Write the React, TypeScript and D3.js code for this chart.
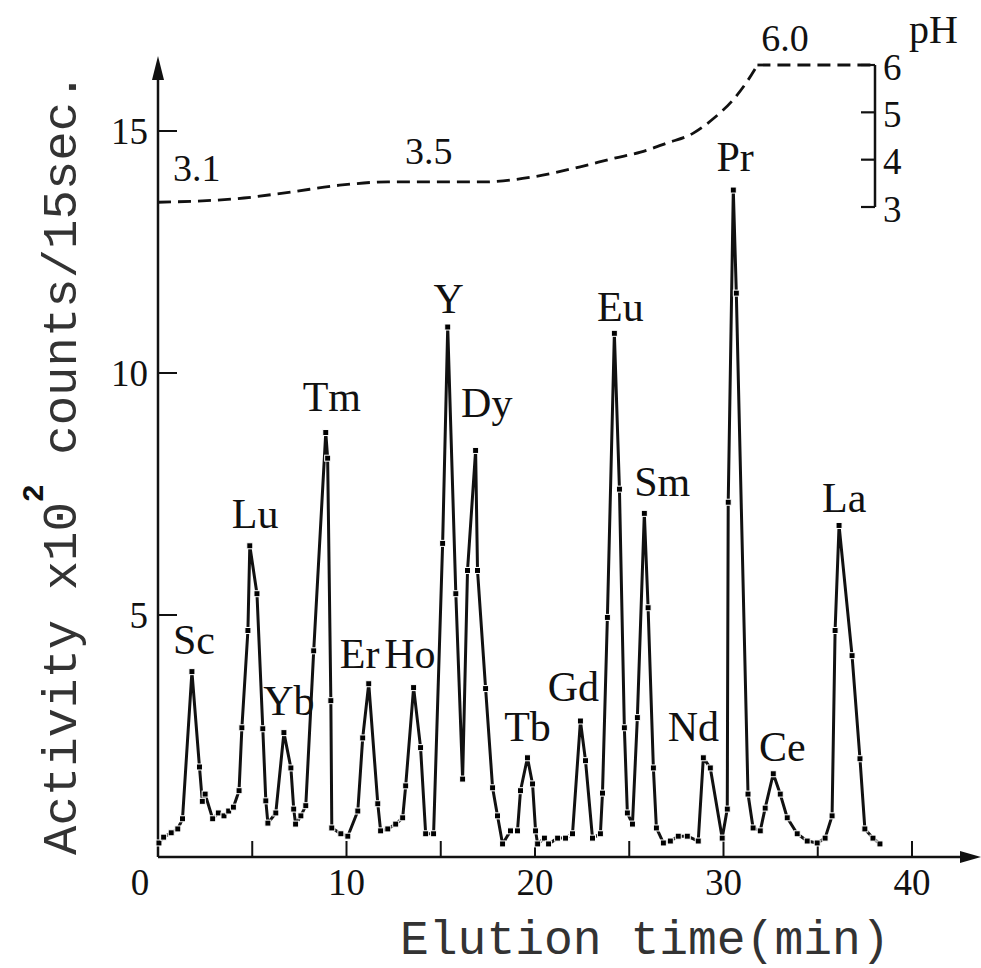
import React from "react";
import * as d3 from "d3";

// Elution curve (time in min, activity x10^2 counts/15 sec)
const elutionTime = [
  0.05, 0.3, 0.7, 1.05, 1.3, 1.8, 2.2, 2.35, 2.5, 2.9, 3.2, 3.5, 3.75, 4.0, 4.3, 4.45, 4.77, 4.87,
  5.25, 5.56, 5.72, 5.83, 6.25, 6.68, 7.05, 7.2, 7.3, 7.58, 7.84, 8.26, 8.9, 9.0, 9.17, 9.22,
  9.7, 10.07, 10.6, 10.86, 11.18, 11.66, 11.81, 12.19, 12.61, 12.98, 13.14, 13.56, 13.93, 14.2,
  14.62, 15.1, 15.37, 15.8, 16.16, 16.42, 16.85, 16.95, 17.38, 17.75, 18.01, 18.28, 18.7, 19.07,
  19.23, 19.6, 19.87, 20.03, 20.14, 20.5, 20.72, 21.2, 21.62, 21.99, 22.41, 22.68, 23.05, 23.47,
  23.58, 23.84, 24.21, 24.48, 24.74, 24.9, 25.17, 25.43, 25.8, 26.0, 26.28, 26.44, 26.81, 27.18,
  27.6, 28.08, 28.66, 28.93, 29.3, 29.93, 30.2, 30.25, 30.52, 30.68, 31.3, 31.57, 31.95, 32.21,
  32.64, 33.01, 33.38, 33.91, 34.44, 34.97, 35.39, 35.76, 35.92, 36.13, 36.82, 37.24, 37.5,
  37.93, 38.3,
];
const activity = [
  0.29, 0.41, 0.5, 0.58, 0.79, 3.83, 1.86, 1.15, 1.3, 0.79, 0.91, 0.85, 0.95, 1.03, 1.37, 2.67, 4.68, 6.43,
  5.44, 2.65, 1.16, 0.7, 0.91, 2.57, 1.84, 0.99, 0.68, 0.85, 1.06, 4.26, 8.77, 8.24, 3.23, 0.6,
  0.48, 0.43, 0.95, 2.46, 3.58, 1.1, 0.54, 0.58, 0.68, 0.81, 1.47, 3.5, 2.26, 0.48,
  0.48, 6.48, 10.95, 5.44, 1.61, 5.92, 8.4, 5.92, 3.48, 1.43, 0.85, 0.27, 0.54, 0.54,
  1.37, 2.05, 1.51, 0.54, 0.27, 0.39, 0.27, 0.39, 0.39, 0.48, 2.81, 1.99, 0.39, 0.48,
  1.32, 4.95, 10.82, 7.6, 2.67, 0.91, 0.68, 2.88, 7.1, 5.15, 1.84, 0.6, 0.29, 0.33,
  0.43, 0.43, 0.33, 2.05, 1.84, 0.39, 0.99, 7.33, 13.78, 11.65, 1.3, 0.6, 0.54, 1.01,
  1.72, 1.3, 0.81, 0.48, 0.33, 0.29, 0.39, 0.85, 4.68, 6.85, 4.16, 2.03, 0.58,
  0.39, 0.27,
];

// pH gradient (dashed)
const pHTime = [0, 4.56, 7.1, 9.64, 12.2, 14.7, 17.3, 19.8, 22.4, 24.2, 25.6, 27.0, 28.4, 29.5, 30.5, 31.3, 31.8];
const pHValue = [3.1, 3.19, 3.32, 3.46, 3.53, 3.53, 3.53, 3.63, 3.85, 4.03, 4.16, 4.35, 4.56, 4.88, 5.26, 5.68, 6.0];
const pHPlateauTime = [31.8, 37.9];
const pHPlateauValue = [6.0, 6.0];
const pHNotes = ["3.1", "3.5", "6.0"];
const pHNoteTime = [0.8, 13.1, 32.0];
const pHNoteValue = [3.55, 3.9, 6.3];

// Peak labels
const peakNames = ["Sc", "Lu", "Yb", "Tm", "Er", "Ho", "Y", "Dy", "Tb", "Gd", "Eu", "Sm", "Pr", "Nd", "Ce", "La"];
const peakLabelTime = [1.91, 5.15, 6.94, 9.22, 10.7, 13.36, 15.42, 17.44, 19.6, 22.04, 24.53, 26.75, 30.62, 28.4, 33.12, 36.4];
const peakLabelValue = [4.2, 6.8, 2.93, 9.22, 3.9, 3.9, 11.25, 9.1, 2.4, 3.23, 11.08, 7.45, 14.17, 2.4, 1.99, 7.13];

// Axis ticks
const xTickLabels = [0, 10, 20, 30, 40];
const xTickMarks = [5, 10, 15, 20, 25, 30, 35, 40];
const yTickLabels = [5, 10, 15];
const pHTicks = [3, 4, 5, 6];

const W = 981;
const H = 968;

export default function App() {
  const x = d3.scaleLinear().domain([0, 40]).range([158, 912]);
  const y = d3.scaleLinear().domain([0, 15]).range([857, 131]);
  const pH = d3.scaleLinear().domain([3, 6]).range([207, 65]);

  const pts = elutionTime.map((t, i) => [t, activity[i]] as [number, number]);
  const line = d3
    .line<[number, number]>()
    .x((d) => x(d[0]))
    .y((d) => y(d[1]));

  const phLine = d3
    .line<[number, number]>()
    .x((d) => x(d[0]))
    .y((d) => pH(d[1]))
    .curve(d3.curveMonotoneX);
  const phPts = pHTime.map((t, i) => [t, pHValue[i]] as [number, number]);
  const phFlat = pHPlateauTime.map((t, i) => [t, pHPlateauValue[i]] as [number, number]);
  const flatLine = d3
    .line<[number, number]>()
    .x((d) => x(d[0]))
    .y((d) => pH(d[1]));

  const x0 = x(0);
  const y0 = y(0);
  const pHAxisX = 875;
  const serif = "'Liberation Serif', 'Times New Roman', serif";
  const mono = "'Liberation Mono', 'Courier New', monospace";

  return (
    <svg
      width={W}
      height={H}
      viewBox={`0 0 ${W} ${H}`}
      style={{ position: "absolute", left: 0, top: 0, background: "#fff" }}
    >
      <rect x={0} y={0} width={W} height={H} fill="#fff" />

      {/* axes */}
      <line x1={x0} y1={y0} x2={966} y2={y0} stroke="#111" strokeWidth={2.5} />
      <path d={`M981,${y0} L960,${y0 - 6} L960,${y0 + 6} Z`} fill="#111" />
      <line x1={x0} y1={y0} x2={x0} y2={74} stroke="#111" strokeWidth={2.5} />
      <path d={`M${x0},56 L${x0 - 6},80 L${x0 + 6},80 Z`} fill="#111" />

      {/* x ticks */}
      {xTickMarks.map((t) => (
        <line key={"xt" + t} x1={x(t)} x2={x(t)} y1={y0} y2={y0 - 16} stroke="#111" strokeWidth={2} />
      ))}
      {xTickLabels.map((t) => (
        <text
          key={"xl" + t}
          x={t === 0 ? x(t) - 18 : x(t)}
          y={895}
          textAnchor="middle"
          fontFamily={serif}
          fontSize={37}
          fill="#111"
        >
          {t}
        </text>
      ))}

      {/* y ticks */}
      {yTickLabels.map((v) => (
        <g key={"yt" + v}>
          <line x1={x0} x2={x0 + 19} y1={y(v)} y2={y(v)} stroke="#111" strokeWidth={2} />
          <text
            x={148}
            y={y(v)}
            dy="0.35em"
            textAnchor="end"
            fontFamily={serif}
            fontSize={37}
            fill="#111"
          >
            {v}
          </text>
        </g>
      ))}

      {/* axis titles */}
      <text x={400} y={954} fontFamily={mono} fontSize={48} fill="#333">
        Elution time(min)
      </text>
      <text
        transform={`translate(76, 855) rotate(-90)`}
        fontFamily={mono}
        fontSize={49}
        fill="#333"
      >
        Activity x10
        <tspan dy={-33} fontSize={30} fontWeight="bold" fill="#111">
          2
        </tspan>
        <tspan dy={33}> counts/15sec.</tspan>
      </text>

      {/* pH gradient */}
      <path
        d={phLine(phPts) || ""}
        fill="none"
        stroke="#111"
        strokeWidth={2.8}
        strokeDasharray="13 7"
      />
      <path
        d={flatLine(phFlat) || ""}
        fill="none"
        stroke="#111"
        strokeWidth={2.8}
        strokeDasharray="13 7"
      />
      {pHNotes.map((s, i) => (
        <text
          key={"pn" + s}
          x={x(pHNoteTime[i])}
          y={pH(pHNoteValue[i])}
          fontFamily={serif}
          fontSize={38}
          fill="#111"
        >
          {s}
        </text>
      ))}

      {/* pH scale */}
      <line x1={pHAxisX} x2={pHAxisX} y1={pH(6)} y2={pH(3)} stroke="#111" strokeWidth={2.5} />
      {pHTicks.map((p) => (
        <g key={"ph" + p}>
          <line
            x1={pHAxisX - 14}
            x2={pHAxisX}
            y1={pH(p)}
            y2={pH(p)}
            stroke="#111"
            strokeWidth={2.2}
          />
          <text
            x={883}
            y={pH(p)}
            dy="0.4em"
            fontFamily={serif}
            fontSize={37}
            fill="#111"
          >
            {p}
          </text>
        </g>
      ))}
      <text x={909} y={43} fontFamily={serif} fontSize={40} fill="#111">
        pH
      </text>

      {/* elution curve */}
      <path
        d={line(pts) || ""}
        fill="none"
        stroke="#111"
        strokeWidth={3}
        strokeLinejoin="round"
      />
      {pts.map((d, i) => (
        <rect
          key={"m" + i}
          x={x(d[0]) - 3}
          y={y(d[1]) - 3}
          width={6}
          height={6}
          fill="#000"
          stroke="#fff"
          strokeWidth={1}
        />
      ))}

      {/* peak labels */}
      {peakNames.map((n, i) => (
        <text
          key={"pk" + n}
          x={x(peakLabelTime[i])}
          y={y(peakLabelValue[i])}
          textAnchor="middle"
          fontFamily={serif}
          fontSize={42}
          fill="#111"
        >
          {n}
        </text>
      ))}
    </svg>
  );
}
